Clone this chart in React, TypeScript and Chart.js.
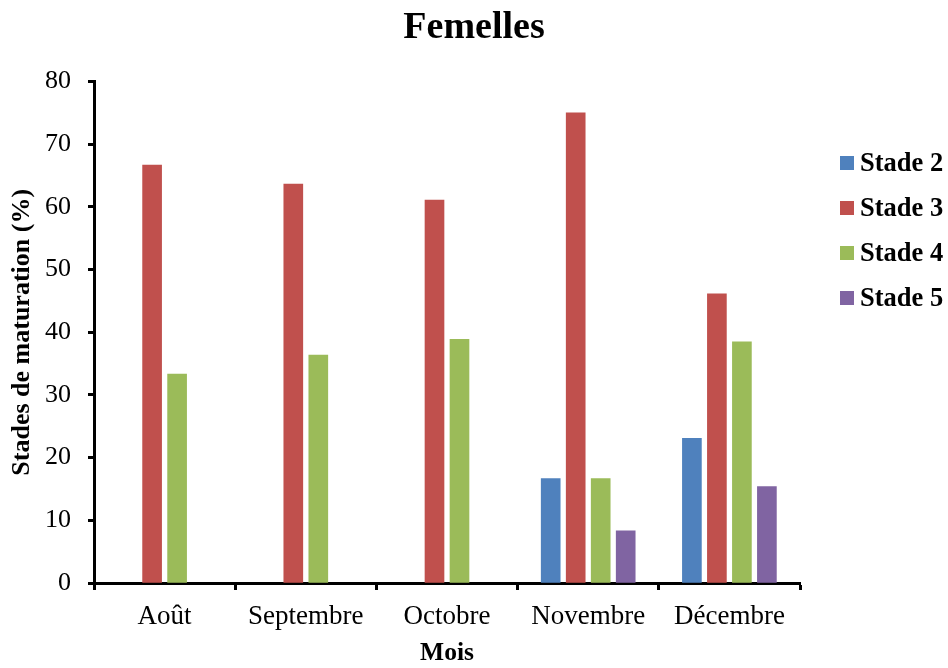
import { useEffect, useRef } from "react";
import { Chart, registerables } from "chart.js";

Chart.register(...registerables);

// Monthly share of female maturation stages (%)
const months = ["Août", "Septembre", "Octobre", "Novembre", "Décembre"];
const stade2: (number | null)[] = [null, null, null, 16.67, 23.08];
const stade3: (number | null)[] = [66.67, 63.64, 61.11, 75.0, 46.15];
const stade4: (number | null)[] = [33.33, 36.36, 38.89, 16.67, 38.46];
const stade5: (number | null)[] = [null, null, null, 8.33, 15.38];
const seriesLabels = ["Stade 2", "Stade 3", "Stade 4", "Stade 5"];
const seriesColors = ["#4F81BD", "#C0504D", "#9BBB59", "#8064A2"];
const yMin = 0;
const yMax = 80;
const yStep = 10;

const FONT = "'Liberation Serif', 'Times New Roman', Times, serif";

// Legend drawn to the right of the plot area, stacked vertically
const sideLegend = {
  id: "sideLegend",
  afterDraw(chart: any) {
    const { ctx, chartArea } = chart;
    ctx.save();
    ctx.font = `bold 26.5px ${FONT}`;
    ctx.textBaseline = "middle";
    ctx.textAlign = "left";
    const x0 = chartArea.right + 40;
    chart.data.datasets.forEach((ds: any, i: number) => {
      const y = 163 + i * 45;
      ctx.fillStyle = ds.backgroundColor;
      ctx.fillRect(x0, y - 7, 14, 14);
      ctx.fillStyle = "#000";
      ctx.fillText(ds.label, x0 + 20, y + 1);
    });
    ctx.restore();
  },
};

export default function App() {
  const canvasRef = useRef<HTMLCanvasElement | null>(null);

  useEffect(() => {
    if (!canvasRef.current) return;
    const series = [stade2, stade3, stade4, stade5];
    const chart = new Chart(canvasRef.current, {
      type: "bar",
      data: {
        labels: months,
        datasets: series.map((data, i) => ({
          label: seriesLabels[i],
          data,
          backgroundColor: seriesColors[i],
          borderWidth: 0,
          skipNull: true,
          barThickness: 25,
          maxBarThickness: 19,
        })),
      },
      options: {
        responsive: false,
        animation: false,
        layout: { padding: 0 },
        plugins: {
          legend: { display: false },
          tooltip: { enabled: false },
          title: {
            display: true,
            text: "Femelles",
            color: "#000",
            font: { family: FONT, size: 38, weight: "bold", lineHeight: 1.2 },
            padding: { top: 5, bottom: 31 },
          },
        },
        scales: {
          x: {
            offset: true,
            afterFit(scale: any) {
              scale.height = 85;
            },
            border: { display: true, color: "#000", width: 3 },
            grid: {
              offset: true,
              drawOnChartArea: false,
              drawTicks: true,
              tickLength: 7,
              tickWidth: 3,
              tickColor: "#000",
            },
            ticks: {
              color: "#000",
              padding: 11,
              font: { family: FONT, size: 27 },
            },
            title: {
              display: true,
              text: "Mois",
              color: "#000",
              font: { family: FONT, size: 25.5, weight: "bold", lineHeight: 1.2 },
              padding: { top: 0, bottom: -1 },
            },
          },
          y: {
            min: yMin,
            max: yMax,
            afterFit(scale: any) {
              scale.width = 94;
            },
            border: { display: true, color: "#000", width: 3 },
            grid: {
              drawOnChartArea: false,
              drawTicks: true,
              tickLength: 6,
              tickWidth: 3,
              tickColor: "#000",
            },
            ticks: {
              stepSize: yStep,
              color: "#000",
              padding: 17,
              font: { family: FONT, size: 26 },
            },
            title: {
              display: true,
              text: "Stades de maturation (%)",
              color: "#000",
              font: { family: FONT, size: 26, weight: "bold", lineHeight: 1.2 },
              padding: { top: 7, bottom: 0 },
            },
          },
          // empty axis on the right that reserves room for the legend
          legendSpace: {
            type: "linear",
            position: "right",
            display: true,
            afterFit(scale: any) {
              scale.width = 148;
            },
            border: { display: false },
            grid: { display: false },
            ticks: { display: false },
          },
        },
      },
      plugins: [sideLegend],
    });
    return () => chart.destroy();
  }, []);

  return (
    <div style={{ position: "absolute", left: 0, top: 0, width: 948, height: 668, background: "#fff" }}>
      <canvas ref={canvasRef} width={948} height={668} style={{ display: "block" }} />
    </div>
  );
}
